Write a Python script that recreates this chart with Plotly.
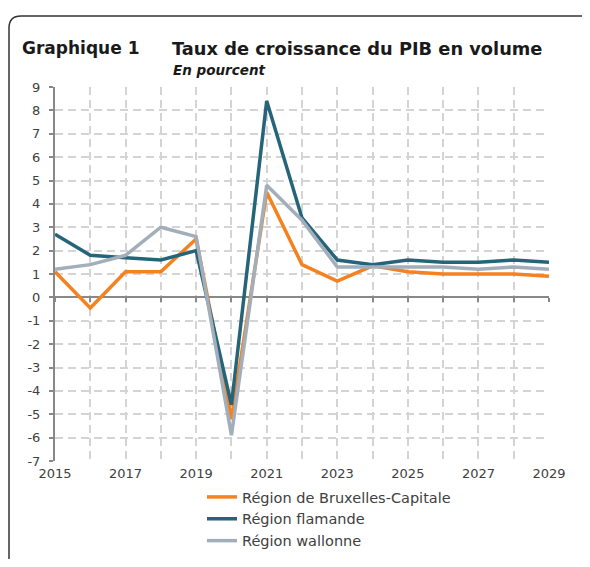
import plotly.graph_objects as go

years = list(range(2015, 2030))
x_tick_labels = [str(y) if (y - 2015) % 2 == 0 else "" for y in years]
bruxelles = [1.1, -0.45, 1.1, 1.1, 2.5, -5.2, 4.5, 1.4, 0.7, 1.35, 1.1, 1.0, 1.0, 1.0, 0.9]
flamande = [2.7, 1.8, 1.7, 1.6, 2.0, -4.6, 8.4, 3.4, 1.6, 1.4, 1.6, 1.5, 1.5, 1.6, 1.5]
wallonne = [1.2, 1.4, 1.8, 3.0, 2.6, -5.9, 4.8, 3.3, 1.3, 1.3, 1.3, 1.3, 1.2, 1.3, 1.2]
y_ticks = list(range(-7, 10))
y_tick_labels = [str(v) for v in y_ticks]

names = ["Région de Bruxelles-Capitale", "Région flamande", "Région wallonne"]
colors = ["#F5821F", "#26647A", "#A3AEBB"]
FONT = "DejaVu Sans"

fig = go.Figure()
fig.add_trace(go.Scatter(x=years, y=bruxelles, name=names[0], mode="lines",
                         line=dict(color=colors[0], width=3.5)))
fig.add_trace(go.Scatter(x=years, y=flamande, name=names[1], mode="lines",
                         line=dict(color=colors[1], width=3.5)))
fig.add_trace(go.Scatter(x=years, y=wallonne, name=names[2], mode="lines", xaxis="x2",
                         line=dict(color=colors[2], width=3.5)))

OFF = 8  # page body margin
W, H = 590 - 2 * OFF, 567 - 2 * OFF
L, R, T, B = 55 - OFF, W - (549 - OFF), 87 - OFF, H - (461 - OFF)
pw, ph = W - L - R, H - T - B
def px(x):  # screenshot x -> paper
    return (x - OFF - L) / pw
def py(y):  # screenshot y -> paper
    return (H - B - (y - OFF)) / ph
def cx(x):  # screenshot x -> container
    return (x - OFF) / W
def cy(y):  # screenshot y -> container
    return 1 - (y - OFF) / H

xl, yt, r = px(OFF + 1), py(16), 12
frame = (f"M {xl},{py(620)} L {xl},{py(16 + r)} "
         f"Q {xl},{yt} {px(OFF + 1 + r)},{yt} L {px(640)},{yt}")

grid = dict(showgrid=True, gridcolor="#D4D4D4", griddash="8px,5px", gridwidth=1.5)

fig.update_layout(
    width=W, height=H,
    margin=dict(l=L, r=R, t=T, b=B, autoexpand=False),
    plot_bgcolor="white", paper_bgcolor="white",
    font=dict(family=FONT, size=13, color="#404040"),
    showlegend=True,
    legend=dict(xref="container", yref="container", x=cx(202), y=cy(481),
                xanchor="left", yanchor="top",
                font=dict(size=14.5, color="#404040"), bgcolor="rgba(0,0,0,0)",
                tracegroupgap=0),
    xaxis=dict(range=[2015, 2029], tickvals=years, ticktext=x_tick_labels, **grid,
               showline=True, linecolor="white", linewidth=1,
               ticks="", zeroline=False, tickfont=dict(size=13, color="#404040")),
    xaxis2=dict(range=[2015, 2029], tickvals=years, overlaying="x", anchor="free",
                position=7 / 16, showline=True, linecolor="#888888", linewidth=2,
                ticks="outside", ticklen=4, tickwidth=1.5, tickcolor="#888888",
                showticklabels=False, showgrid=False, zeroline=False, layer="below traces"),
    yaxis=dict(range=[-7, 9], tickvals=y_ticks, ticktext=y_tick_labels, **grid,
               showline=True, linecolor="#888888", ticklabelstandoff=6,
               linewidth=2, ticks="outside", ticklen=4, tickcolor="#888888", tickwidth=1.5,
               zeroline=False, tickfont=dict(size=13, color="#404040")),
    shapes=[dict(type="path", xref="paper", yref="paper", path=frame,
                 line=dict(color="#333333", width=1.5))],
    annotations=[
        dict(text="<b>Graphique 1</b>", x=px(20), y=py(48), xref="paper", yref="paper",
             xanchor="left", yanchor="middle", showarrow=False,
             font=dict(family=FONT, size=17, color="#1a1a1a")),
        dict(text="<b>Taux de croissance du PIB en volume</b>", x=px(170), y=py(48),
             xref="paper", yref="paper", xanchor="left", yanchor="middle", showarrow=False,
             font=dict(family=FONT, size=17.8, color="#1a1a1a")),
        dict(text="<b><i>En pourcent</i></b>", x=px(171), y=py(70), xref="paper",
             yref="paper", xanchor="left", yanchor="middle", showarrow=False,
             font=dict(family=FONT, size=13.5, color="#1a1a1a")),
    ],
)

fig.write_html("out.html")
